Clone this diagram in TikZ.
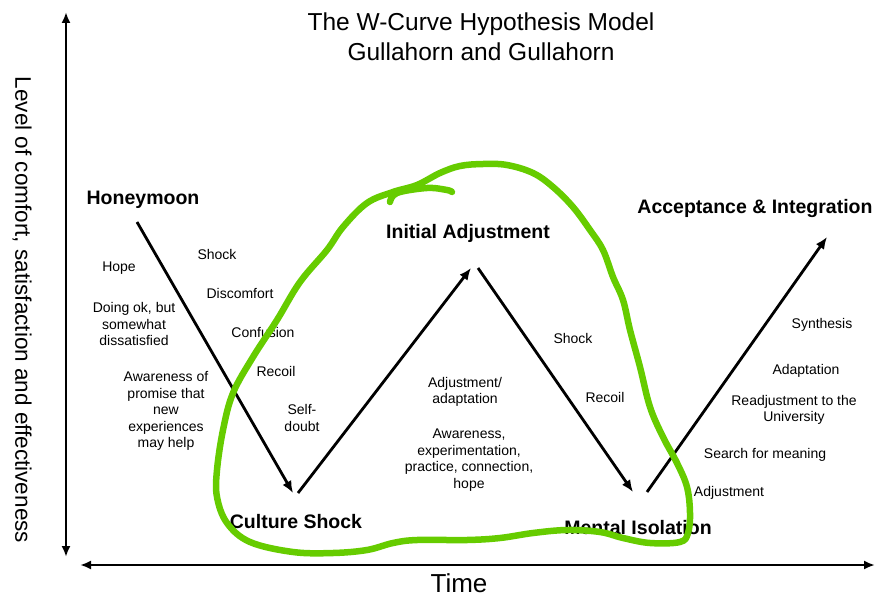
\documentclass[tikz,border=0pt]{standalone}
\usepackage{fontspec}
\setmainfont{Liberation Sans}
\usepackage{xcolor}
\usetikzlibrary{arrows.meta,positioning}
\definecolor{markgreen}{RGB}{102,204,0}

\begin{document}
\begin{tikzpicture}[
    x=1pt, y=-1pt,
    phase/.style={font=\fontsize{19.5}{22}\selectfont\bfseries, inner sep=0pt},
    note/.style={font=\fontsize{14}{16.5}\selectfont, align=center, inner sep=0pt},
    axis/.style={{Latex[length=11pt,width=9pt]}-{Latex[length=11pt,width=9pt]}, line width=2.8pt},
    arrow/.style={-{Latex[length=12pt,width=10pt]}, line width=2.8pt},
    marker/.style={draw=markgreen, line width=6.5pt, line cap=round, line join=round}
]
    \useasboundingbox (0,0) rectangle (877,599);

    % Axes
    \coordinate (ytop) at (66,12);
    \coordinate (ybot) at (66,557);
    \coordinate (xleft) at (80,565);
    \coordinate (xright) at (875,565);
    \draw[axis] (ybot) -- (ytop);
    \draw[axis] (xleft) -- (xright);

    % Titles
    \node[font=\fontsize{24.5}{30}\selectfont, align=center, inner sep=0pt] (title) at (481,37)
        {The W-Curve Hypothesis Model\\Gullahorn and Gullahorn};
    \node[font=\fontsize{22.5}{26}\selectfont, rotate=-90, inner sep=0pt] (ylabel) at (22,310)
        {Level of comfort, satisfaction and effectiveness};
    \node[font=\fontsize{26}{30}\selectfont, inner sep=0pt] (time) at (459,583) {Time};

    % Phases
    \node[phase] (honeymoon) at (143,200) {Honeymoon};
    \node[phase] (initial) at (468,233) {Initial Adjustment};
    \node[phase] (accept) at (755,208) {Acceptance \& Integration};
    \node[phase] (culture) at (296,522) {Culture Shock};
    \node[phase] (mental) at (638,528) {Mental Isolation};

    % Notes
    \node[note] (hope) at (119,268) {Hope};
    \node[note] (doing) at (134,324) {Doing ok, but\\somewhat\\dissatisfied};
    \node[note] (promise) at (166,411) {Awareness of\\promise that\\new\\experiences\\may help};
    \node[note] (shock1) at (217,254) {Shock};
    \node[note] (discomfort) at (240,293) {Discomfort};
    \node[note] (confusion) at (263,332) {Confusion};
    \node[note] (recoil1) at (276,371) {Recoil};
    \node[note] (selfdoubt) at (302,418) {Self-\\doubt};
    \node[note] (adjadapt) at (465,392) {Adjustment/\\adaptation};
    \node[note] (awareness) at (469,460) {Awareness,\\experimentation,\\practice, connection,\\hope};
    \node[note] (shock2) at (573,338) {Shock};
    \node[note] (recoil2) at (605,397) {Recoil};
    \node[note] (synthesis) at (822,325) {Synthesis};
    \node[note] (adaptation) at (806,371) {Adaptation};
    \node[note] (readjust) at (794,410) {Readjustment to the\\University};
    \node[note] (search) at (765,455) {Search for meaning};
    \node[note] (adjustment) at (729,493) {Adjustment};

    % W curve
    \coordinate (w1) at (137,222);
    \coordinate (w2) at (293,493);
    \coordinate (w3) at (298,493);
    \coordinate (w4) at (471,268);
    \coordinate (w5) at (478,268);
    \coordinate (w6) at (633,492);
    \coordinate (w7) at (647,492);
    \coordinate (w8) at (827,237);
    \draw[arrow] (w1) -- (w2);
    \draw[arrow] (w3) -- (w4);
    \draw[arrow] (w5) -- (w6);
    \draw[arrow] (w7) -- (w8);

    % Hand-drawn loop
    \draw[marker] plot[smooth cycle, tension=0.6] coordinates {
        (393,192) (417,185) (440,173) (460,166) (483,164) (507,165) (533,173)
        (553,187) (573,207) (590,230) (603,250) (613,277) (623,300) (630,330)
        (640,367) (650,407) (663,437) (677,463) (687,487) (690,513) (688,533)
        (680,542) (650,543) (623,538) (600,532) (567,530) (533,533) (500,538)
        (467,540) (417,540) (393,543) (367,550) (333,553) (293,552) (250,542)
        (227,523) (217,497) (217,470) (223,430) (233,393) (253,357) (277,320)
        (300,282) (327,250) (343,227) (367,203)};
    \draw[marker] plot[smooth, tension=0.6] coordinates {
        (390,202) (397,193) (427,188) (447,190) (452,192)};
\end{tikzpicture}
\end{document}
